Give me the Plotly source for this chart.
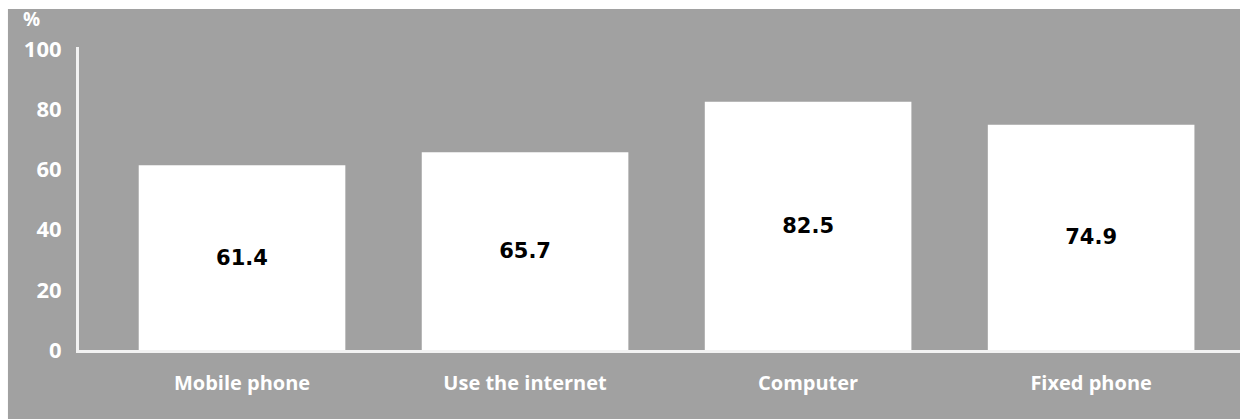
import plotly.graph_objects as go

# Share of respondents (%) by item
categories = ["Mobile phone", "Use the internet", "Computer", "Fixed phone"]
values = [61.4, 65.7, 82.5, 74.9]
y_ticks = [0, 20, 40, 60, 80, 100]

PANEL = "#a1a1a1"
LINE = "#f2f2f2"

fig = go.Figure(
    go.Bar(
        x=categories,
        y=values,
        width=0.73,
        marker=dict(color="white", line=dict(width=0)),
        text=[f"{v:.1f}" for v in values],
        textposition="inside",
        insidetextanchor="middle",
        textangle=0,
        textfont=dict(family="DejaVu Sans", size=21, color="black", weight="bold"),
        hoverinfo="skip",
    )
)

# grey panel behind the chart, leaving a thin white frame top and left
fig.add_shape(
    type="rect", xref="paper", yref="paper",
    x0=-0.0612, x1=1.02, y0=-0.4, y1=1.1254,
    fillcolor=PANEL, line=dict(width=0), layer="below",
)

fig.add_annotation(
    text="%", xref="paper", yref="paper",
    x=-0.0499, y=1.092, xanchor="left", yanchor="middle",
    showarrow=False,
    font=dict(family="Open Sans", size=19, color="white", weight="bold"),
)

fig.update_xaxes(
    range=[-0.576, 3.526],
    showline=True, linecolor=LINE, linewidth=3,
    showgrid=False, zeroline=False, ticks="",
    tickfont=dict(family="Open Sans", size=20, color="white", weight="bold"),
    ticklabelstandoff=13,
)
fig.update_yaxes(
    range=[0, 100.7],
    tickvals=y_ticks,
    showline=True, linecolor=LINE, linewidth=3,
    showgrid=False, zeroline=False, ticks="",
    tickfont=dict(family="Open Sans", size=22, color="white", weight="bold"),
    ticklabelstandoff=10,
)

fig.update_layout(
    width=1240, height=419,
    margin=dict(l=79, r=0, t=47, b=69),
    paper_bgcolor="white",
    plot_bgcolor="rgba(0,0,0,0)",
    showlegend=False,
    bargap=0.27,
)

fig.write_html("out.html")
